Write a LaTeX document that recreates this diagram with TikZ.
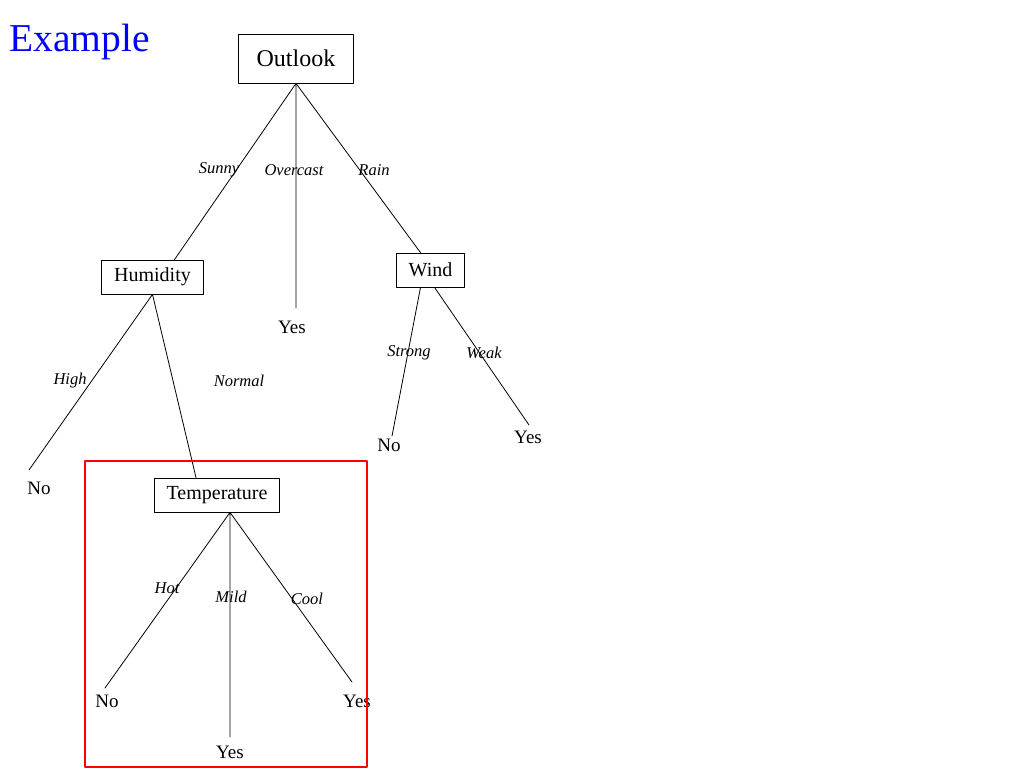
\documentclass[tikz,border=0pt]{standalone}
\usepackage{fontspec}
\setmainfont{Liberation Serif}
\usetikzlibrary{positioning}
\tikzset{
  attr/.style={draw, line width=0.8pt, inner xsep=12.5pt, minimum height=34pt, font=\fontsize{20}{23}\selectfont},
  leaf/.style={inner sep=0pt, font=\fontsize{19}{22}\selectfont},
  val/.style={inner sep=0pt, font=\fontsize{16.5}{19}\selectfont\itshape},
  branch/.style={line width=0.8pt}
}
\begin{document}
\begin{tikzpicture}[x=1pt, y=-1pt, line join=round, line cap=round]
	\useasboundingbox (0,0) rectangle (1024,768);
	\node[anchor=west, inner sep=0pt, text=blue, font=\fontsize{39.5}{44}\selectfont] (title) at (9,42) {Example};
	\node[attr, inner xsep=18pt, minimum height=49pt, font=\fontsize{24}{28}\selectfont] (outlook) at (296,58.5) {Outlook};
	\node[attr] (humidity) at (152.5,277) {Humidity};
	\node[attr] (wind) at (430.5,270) {Wind};
	\node[attr] (temp) at (217,495) {Temperature};
	\path
	(296,308) coordinate (yesO)
	(392,436) coordinate (noW)
	(529,425) coordinate (yesW)
	(29,470) coordinate (noH)
	(105,688) coordinate (noT)
	(230,737) coordinate (yesTm)
	(352,682) coordinate (yesTc);
	\foreach \n/\t/\x/\y in {lyesO/Yes/292/327, lnoW/No/389/445, lyesW/Yes/528/437, lnoH/No/39/488, lnoT/No/107/701, lyesTm/Yes/230/752, lyesTc/Yes/357/701}
		\node[leaf] (\n) at (\x,\y) {\t};
	\draw[branch] (outlook.south) -- ([xshift=22pt]humidity.north) (outlook.south) -- (yesO) (outlook.south) -- ([xshift=-10pt]wind.north);
	\draw[branch] (humidity.south) -- (noH) (humidity.south) -- ([xshift=-21pt]temp.north);
	\draw[branch] ([xshift=-10pt]wind.south) -- (noW) ([xshift=4pt]wind.south) -- (yesW);
	\draw[branch] ([xshift=13pt]temp.south) -- (noT) ([xshift=13pt]temp.south) -- (yesTm) ([xshift=13pt]temp.south) -- (yesTc);
	\foreach \n/\t/\x/\y in {sunny/Sunny/219/170, overcast/Overcast/294/170, rain/Rain/374/170, high/High/70/381, normal/Normal/239/381, strong/Strong/409/353, weak/Weak/484/353, hot/Hot/167/588, mild/Mild/231/597, cool/Cool/307/599}
		\node[val] (\n) at (\x,\y) {\t};
	\draw[red, line width=2pt] (85,461) rectangle (367,767);
\end{tikzpicture}
\end{document}
